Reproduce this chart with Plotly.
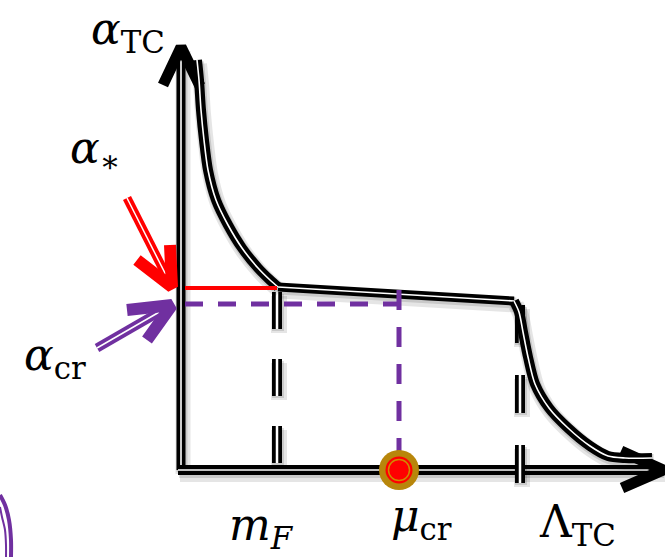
import plotly.graph_objects as go

# ---- schematic coordinates (canvas units, y grows downward) ----
# running coupling curve alpha_TC(mu): steep fall, walking plateau, fall again
fall_x = [197, 199, 201, 204, 208, 216, 228, 242, 258, 270, 278]
fall_y = [60, 80, 110, 140, 170, 200, 225, 248, 268, 280, 287]
plateau_x = [278, 395, 514]
plateau_y = [287, 294, 301]
drop_x = [514, 519, 523, 528, 535, 549, 568, 590, 608, 625, 652]
drop_y = [301, 312, 332, 357, 384, 408, 428, 446, 456, 458, 458]

# axes
origin = (181, 470)
y_axis_top = 47
x_axis_end = 663

# special scales on the horizontal axis
scale_names = ["m_F", "mu_cr", "Lambda_TC"]
scale_x = [277, 399, 520]
scale_labels = ["<i>m</i><sub><i>F</i></sub>", "<i>μ</i><sub>cr</sub>", "Λ<sub>TC</sub>"]
label_pos = [(261, 527), (421, 518), (577, 524)]

# coupling levels on the vertical axis
alpha_star_y = 288
alpha_cr_y = 304

BLACK = "#000000"
RED = "#ff0000"
PURPLE = "#7030a0"
GOLD = "#b8860b"

fig = go.Figure()


def line(xs, ys, color, width, dash=None, shape="linear"):
    fig.add_trace(go.Scatter(
        x=xs, y=ys, mode="lines", hoverinfo="skip", showlegend=False,
        line=dict(color=color, width=width, dash=dash, shape=shape, smoothing=0.8),
    ))


def double_line(xs, ys, color, width, inner=1.6, dash=None, shape="linear", shadow=True):
    if shadow:
        line([v + 2 for v in xs], [v + 4 for v in ys], "rgba(0,0,0,0.10)", width + 6, dash, shape)
        line([v + 1 for v in xs], [v + 2 for v in ys], "rgba(0,0,0,0.12)", width + 2, dash, shape)
    line(xs, ys, color, width, dash, shape)
    line(xs, ys, "white", inner, dash, shape)


ox, oy = origin

# vertical axis with arrow head
double_line([ox, ox], [oy, y_axis_top], BLACK, 9)
line([163, ox, 200], [85, y_axis_top, 86], BLACK, 11)

# horizontal axis with arrow head
double_line([ox - 3, x_axis_end], [oy, oy], BLACK, 10)
line([621, x_axis_end, 622], [451, oy, 488], BLACK, 11)

# dashed markers at m_F and Lambda_TC
double_line([scale_x[0], scale_x[0]], [292, oy - 2], BLACK, 10, inner=2.5, dash="37px,30px")
double_line([scale_x[2], scale_x[2]], [305, oy + 16], BLACK, 10, inner=2.5, dash="38px,32px")

# the curve
double_line(fall_x, fall_y, BLACK, 10, inner=1.6, shape="spline")
double_line(plateau_x, plateau_y, BLACK, 9, inner=1.6)
double_line(drop_x, drop_y, BLACK, 10, inner=1.6, shape="spline")

# alpha_* plateau (red) and alpha_cr level (purple dashed)
line([185, scale_x[0]], [alpha_star_y, alpha_star_y], RED, 4)
line([185, scale_x[1]], [alpha_cr_y, alpha_cr_y], PURPLE, 5, dash="18px,15px")
line([scale_x[1], scale_x[1]], [290, oy - 8], PURPLE, 5, dash="20px,17px")

# critical point mu_cr on the axis
fig.add_trace(go.Scatter(
    x=[scale_x[1]], y=[oy], mode="markers", hoverinfo="skip", showlegend=False,
    marker=dict(size=40, color=GOLD, line=dict(width=0)),
))
fig.add_trace(go.Scatter(
    x=[scale_x[1]], y=[oy], mode="markers", hoverinfo="skip", showlegend=False,
    marker=dict(size=27, color=RED, line=dict(width=0)),
))
fig.add_trace(go.Scatter(
    x=[scale_x[1]], y=[oy], mode="markers", hoverinfo="skip", showlegend=False,
    marker=dict(size=21, color=RED, line=dict(width=1.5, color="#d08a00")),
))

# red arrow pointing at alpha_*
double_line([127, 170], [198, 283], RED, 9, inner=1.5, shadow=False)
line([137, 172, 170], [260, 287, 245], RED, 12)

# purple arrow pointing at alpha_cr
double_line([97, 168], [348, 307], PURPLE, 9, inner=1.5, shadow=False)
line([127, 172, 147], [310, 305, 340], PURPLE, 12)

# purple frame edge at the lower left
line([0, 5, 9, 11, 11], [495, 505, 520, 540, 557], PURPLE, 4, shape="spline")
line([0, 2, 5, 6, 6], [507, 517, 530, 545, 557], PURPLE, 2, shape="spline")

# text labels
FONT = dict(family="DejaVu Serif, Liberation Serif, serif", size=44, color="black")
texts = [
    ("<i>α</i><sub>TC</sub>", 128, 31),
    ("<i>α</i><sub>∗</sub>", 95, 150),
    ("<i>α</i><sub>cr</sub>", 55, 357),
]
for (lbl, (lx, ly)) in zip(scale_labels, label_pos):
    texts.append((lbl, lx, ly))
for t, tx, ty in texts:
    fig.add_annotation(x=tx, y=ty, text=t, showarrow=False, font=FONT,
                       xanchor="center", yanchor="middle")

fig.update_layout(
    width=665, height=557, margin=dict(l=0, r=0, t=0, b=0),
    plot_bgcolor="white", paper_bgcolor="white", showlegend=False,
    xaxis=dict(range=[0, 665], visible=False, fixedrange=True),
    yaxis=dict(range=[557, 0], visible=False, fixedrange=True),
)
fig.write_html("out.html")
